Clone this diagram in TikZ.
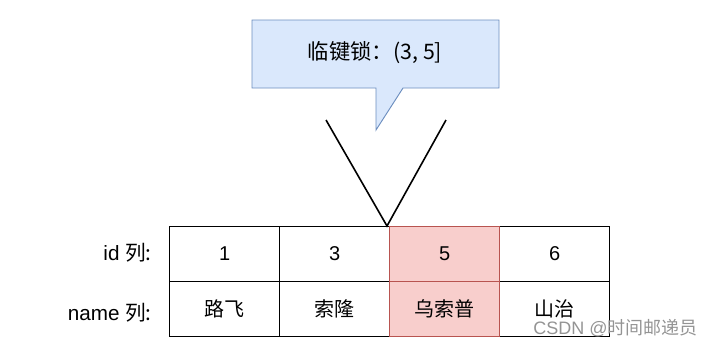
\documentclass[tikz,border=0pt]{standalone}
\usepackage{fontspec}
\setmainfont{Liberation Sans}
\newfontfamily\cjk{Noto Sans CJK SC}
\definecolor{cfill}{HTML}{DAE8FC}
\definecolor{cdraw}{HTML}{6C8EBF}
\definecolor{rfill}{HTML}{F8CECC}
\definecolor{rdraw}{HTML}{B85450}
\begin{document}
\begin{tikzpicture}[x=0.75pt,y=-0.75pt,
  cell/.style={draw=black,line width=0.9pt,minimum width=110*0.75pt,minimum height=55*0.75pt,inner sep=0pt,anchor=north west,font=\fontsize{15}{17}\selectfont},
  hot/.style={cell,fill=rfill,draw=rdraw},
  lbl/.style={anchor=east,font=\fontsize{15.5}{17}\selectfont,inner sep=0pt}]
\useasboundingbox (0,0) rectangle (713,347);
% callout
\path[fill=cfill,draw=cdraw,line width=0.7pt]
  (252,20) -- (499,20) -- (499,88) -- (403,88) -- (376,130) -- (376,88) -- (252,88) -- cycle;
\node (call) at (375,53) {\fontsize{16}{18}\selectfont\cjk 临键锁：(3, 5]};
% V lines
\coordinate (apex) at (387,226);
\coordinate (vl) at (326,120);
\coordinate (vr) at (446,120);
\draw[line width=1.2pt] (vl) -- (apex) -- (vr);
% table
\node[cell] (i1) at (169,226) {1};
\node[cell] (i3) at (279,226) {3};
\node[cell] (i6) at (499,226) {6};
\node[cell] (n1) at (169,281) {\cjk 路飞};
\node[cell] (n2) at (279,281) {\cjk 索隆};
\node[cell] (n4) at (499,281) {\cjk 山治};
\node[hot] (i5) at (389,226) {5};
\node[hot] (n3) at (389,281) {\cjk 乌索普};
% labels
\node[lbl] (lid) at (152,253) {id \cjk 列:};
\node[lbl] (lname) at (152,313) {name \cjk 列:};
% watermark
\node[anchor=east,inner sep=0pt,text=black!42,font=\fontsize{13.5}{15}\selectfont] (wm) at (698,328) {CSDN @\cjk 时间邮递员};
\end{tikzpicture}
\end{document}
